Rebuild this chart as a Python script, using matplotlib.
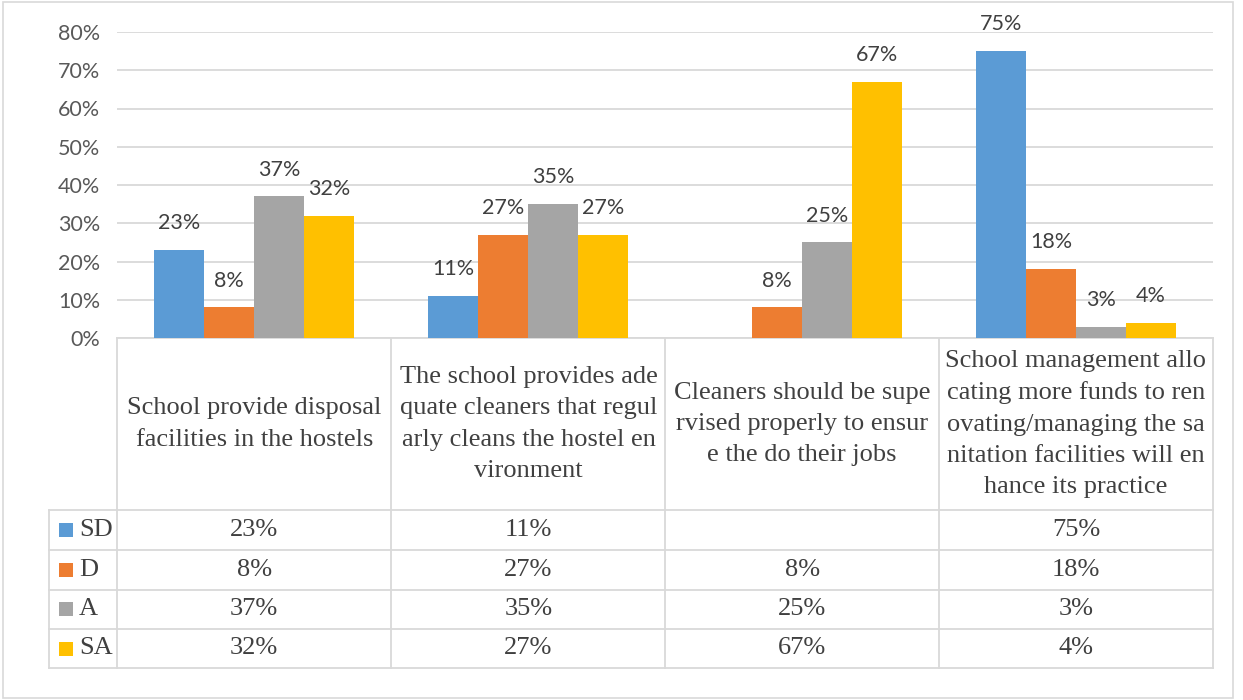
import numpy as np
import matplotlib
matplotlib.use("Agg")
import matplotlib.pyplot as plt
from matplotlib.patches import Rectangle
from matplotlib.ticker import PercentFormatter

# ---- data -------------------------------------------------------------
categories = [
    "School provide disposal\nfacilities in the hostels",
    "The school provides ade\nquate cleaners that regul\narly cleans the hostel en\nvironment",
    "Cleaners should be supe\nrvised properly to ensur\ne the do their jobs",
    "School management allo\ncating more funds to ren\novating/managing the sa\nnitation facilities will en\nhance its practice",
]
series_names = ["SD", "D", "A", "SA"]
sd = [0.23, 0.11, None, 0.75]
d = [0.08, 0.27, 0.08, 0.18]
a = [0.37, 0.35, 0.25, 0.03]
sa = [0.32, 0.27, 0.67, 0.04]
y_ticks = [0.0, 0.1, 0.2, 0.3, 0.4, 0.5, 0.6, 0.7, 0.8]

series_values = [sd, d, a, sa]
colors = ["#5B9BD5", "#ED7D31", "#A5A5A5", "#FFC000"]

# ---- layout (pixel geometry of the figure) ----------------------------
W, H = 1243, 700
fig = plt.figure(figsize=(W / 100, H / 100), dpi=100)
fig.patch.set_facecolor("white")

plot_left, plot_right = 117, 1213
plot_top, plot_bottom = 32, 338
col_edges = [117, 391.5, 665.5, 939, 1213]
row_edges = [510, 550, 589.5, 629, 668]
table_left = 49
grid_col = "#D9D9D9"
tick_col = "#595959"
text_col = "#404040"
sans = "Lato"
serif = "Liberation Serif"

# overlay in pixel coordinates for frame and data table
ov = fig.add_axes([0, 0, 1, 1], zorder=0)
ov.set_xlim(0, W)
ov.set_ylim(H, 0)
ov.axis("off")

ov.add_patch(Rectangle((3, 2), 1230, 696, fill=False, edgecolor=grid_col, lw=1.2))

# chart axes
ax = fig.add_axes([plot_left / W, 1 - plot_bottom / H,
                   (plot_right - plot_left) / W, (plot_bottom - plot_top) / H],
                  zorder=1)
ax.set_facecolor("none")

n_cat = len(categories)
n_ser = len(series_names)
x = np.arange(n_cat)
bar_w = 50 / 274

for i, (name, vals, c) in enumerate(zip(series_names, series_values, colors)):
    v = np.array([np.nan if t is None else t for t in vals], dtype=float)
    pos = x + (i - (n_ser - 1) / 2) * bar_w
    ax.bar(pos, v, width=bar_w, color=c, zorder=2)
    for xp, val in zip(pos, v):
        if np.isnan(val):
            continue
        ax.annotate(f"{val:.0%}", (xp, val), xytext=(0, 15), textcoords="offset points",
                    ha="center", va="baseline", fontsize=15.5, family=sans,
                    color=text_col, annotation_clip=False)

ax.set_xlim(-0.5, n_cat - 0.5)
ax.set_ylim(0, 0.8)
ax.set_yticks(y_ticks)
ax.yaxis.set_major_formatter(PercentFormatter(1.0, decimals=0))
ax.set_xticks([])
ax.tick_params(axis="y", length=0, pad=12, labelsize=15.5, labelcolor=tick_col)
for lab in ax.get_yticklabels():
    lab.set_family(sans)
ax.yaxis.grid(True, color=grid_col, lw=1.3, zorder=0)
for s in ax.spines.values():
    s.set_visible(False)

# ---- data table -------------------------------------------------------
lw_t = 1.3
ov.plot([plot_left, plot_right], [plot_bottom, plot_bottom], color=grid_col, lw=lw_t)
for yv in row_edges:
    ov.plot([table_left, plot_right], [yv, yv], color=grid_col, lw=lw_t)
ov.plot([table_left, table_left], [row_edges[0], row_edges[-1]], color=grid_col, lw=lw_t)
for xv in col_edges:
    ov.plot([xv, xv], [plot_bottom, row_edges[-1]], color=grid_col, lw=lw_t)

col_centers = [(col_edges[k] + col_edges[k + 1]) / 2 for k in range(n_cat)]
header_mid = (plot_bottom + row_edges[0]) / 2
for cx, label in zip(col_centers, categories):
    ov.text(cx, header_mid, label, ha="center", va="center", fontsize=19,
            family=serif, color=text_col, linespacing=1.55, multialignment="center")

for r, (name, vals, c) in enumerate(zip(series_names, series_values, colors)):
    ymid = (row_edges[r] + row_edges[r + 1]) / 2
    ov.add_patch(Rectangle((59, ymid - 7), 14, 14, facecolor=c, edgecolor="none"))
    ov.text(79, ymid, name, ha="left", va="center", fontsize=19, family=serif, color=text_col)
    for cx, val in zip(col_centers, vals):
        if val is None:
            continue
        ov.text(cx, ymid, f"{val:.0%}", ha="center", va="center", fontsize=19,
                family=serif, color=text_col)

fig.savefig("out.png", dpi=100, facecolor="white")
